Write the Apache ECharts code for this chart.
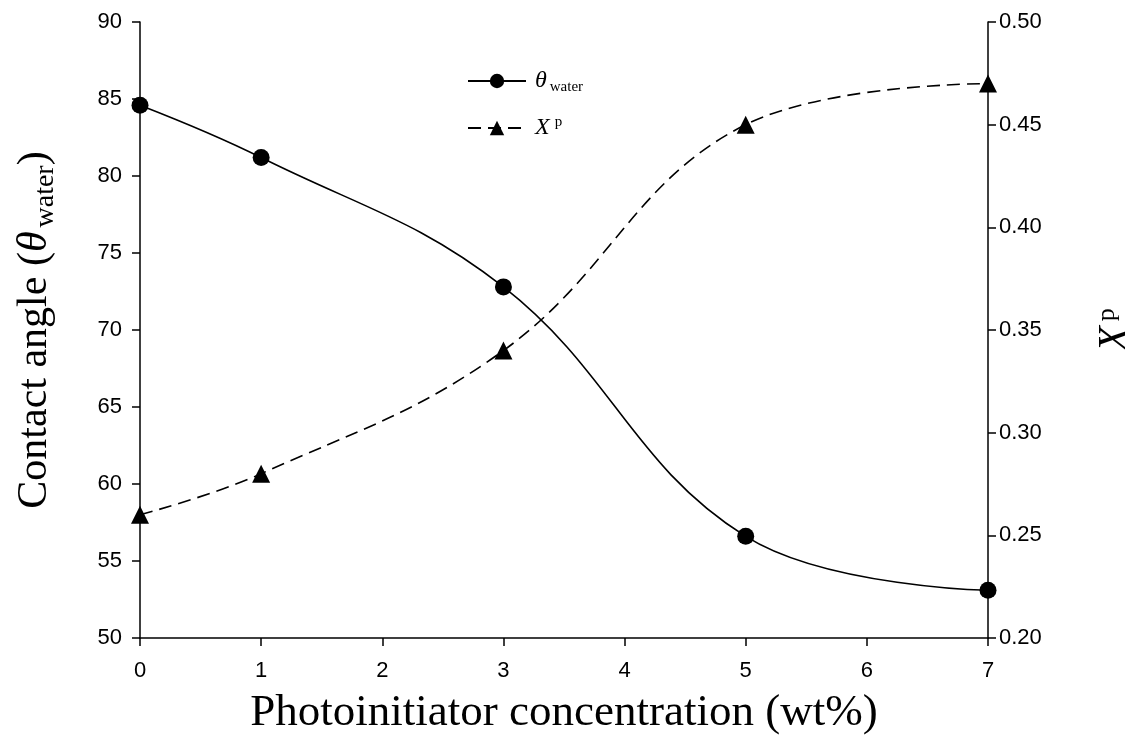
<!DOCTYPE html>
<html><head><meta charset="utf-8">
<script src="https://cdn.jsdelivr.net/npm/echarts@6/dist/echarts.min.js"></script>
<style>html,body{margin:0;padding:0;background:#fff;overflow:hidden}#c{width:1125px;height:755px}</style>
</head><body><div id="c"></div>
<script>
const concentration = [0, 1, 3, 5, 7];
const thetaWater = [84.6, 81.2, 72.8, 56.6, 53.1];
const xp = [0.26, 0.28, 0.34, 0.45, 0.47];
const xTicks = [0, 1, 2, 3, 4, 5, 6, 7];

const chart = echarts.init(document.getElementById('c'));
const serif = '"Liberation Serif", "DejaVu Serif", serif';
const sans = '"Liberation Sans", Arial, sans-serif';
chart.setOption({
  animation: false,
  backgroundColor: '#fff',
  grid: { left: 140, right: 137, top: 22, bottom: 117, containLabel: false, outerBoundsMode: 'none' },
  legend: {
    orient: 'vertical', left: 462, top: 64, itemGap: 20,
    itemWidth: 58, itemHeight: 18,
    textStyle: { fontFamily: serif, fontSize: 22, color: '#000',
      rich: {
        it: { fontFamily: serif, fontStyle: 'italic', fontSize: 24, color: '#000', padding: [0, 0, 0, 4] },
        sub: { fontFamily: serif, fontSize: 15, color: '#000', padding: [12, 0, 0, 3] },
        sup: { fontFamily: serif, fontSize: 15, color: '#000', padding: [0, 0, 12, 5] }
      } },
    formatter: function (n) {
      return n === 'theta' ? '{it|θ}{sub|water}' : '{it|X}{sup|p}';
    },
    data: ['theta', 'xp']
  },
  xAxis: {
    type: 'value', min: 0, max: 7, interval: 1,
    name: 'Photoinitiator concentration (wt%)', nameLocation: 'middle', nameGap: 53,
    nameTextStyle: { fontFamily: serif, fontSize: 45, color: '#000' },
    axisLine: { show: true, lineStyle: { color: '#000', width: 1.5 } },
    axisTick: { show: true, inside: false, length: 8, lineStyle: { color: '#000', width: 1.5 } },
    axisLabel: { fontFamily: sans, fontSize: 22, color: '#000', margin: 22 },
    splitLine: { show: false }
  },
  yAxis: [{
    type: 'value', min: 50, max: 90, interval: 5, position: 'left',
    name: 'Contact angle ({it|θ}{sub|water})', nameLocation: 'middle', nameGap: 80, nameRotate: 90,
    nameTextStyle: { fontFamily: serif, fontSize: 42, color: '#000',
      rich: {
        it: { fontFamily: serif, fontStyle: 'italic', fontSize: 42, color: '#000' },
        sub: { fontFamily: serif, fontSize: 28, color: '#000', padding: [22, 0, 0, 4] }
      } },
    axisLine: { show: true, lineStyle: { color: '#000', width: 1.5 } },
    axisTick: { show: true, inside: false, length: 8, lineStyle: { color: '#000', width: 1.5 } },
    axisLabel: { fontFamily: sans, fontSize: 22, color: '#000', margin: 18 },
    splitLine: { show: false }
  }, {
    type: 'value', min: 0.20, max: 0.50, interval: 0.05, position: 'right',
    name: '{it|X}{sup|p}', nameLocation: 'middle', nameGap: 106, nameRotate: 90,
    nameTextStyle: { fontFamily: serif, fontSize: 40, color: '#000',
      rich: {
        it: { fontFamily: serif, fontStyle: 'italic', fontSize: 42, color: '#000' },
        sup: { fontFamily: serif, fontSize: 26, color: '#000', padding: [0, 0, 18, 5] }
      } },
    axisLine: { show: true, lineStyle: { color: '#000', width: 1.5 } },
    axisTick: { show: true, inside: false, length: 8, lineStyle: { color: '#000', width: 1.5 } },
    axisLabel: { fontFamily: sans, fontSize: 22, color: '#000', margin: 11,
      formatter: v => v.toFixed(2) },
    splitLine: { show: false }
  }],
  series: [{
    name: 'theta', type: 'line', yAxisIndex: 0, smooth: 0.4,
    data: concentration.map((c, i) => [c, thetaWater[i]]),
    symbol: 'circle', symbolSize: 17,
    itemStyle: { color: '#000' },
    lineStyle: { color: '#000', width: 1.6, type: 'solid' }
  }, {
    name: 'xp', type: 'line', yAxisIndex: 1, smooth: 0.4,
    data: concentration.map((c, i) => [c, xp[i]]),
    symbol: 'triangle', symbolSize: 18,
    itemStyle: { color: '#000' },
    lineStyle: { color: '#000', width: 1.6, type: [13, 7] }
  }]
});
</script></body></html>
